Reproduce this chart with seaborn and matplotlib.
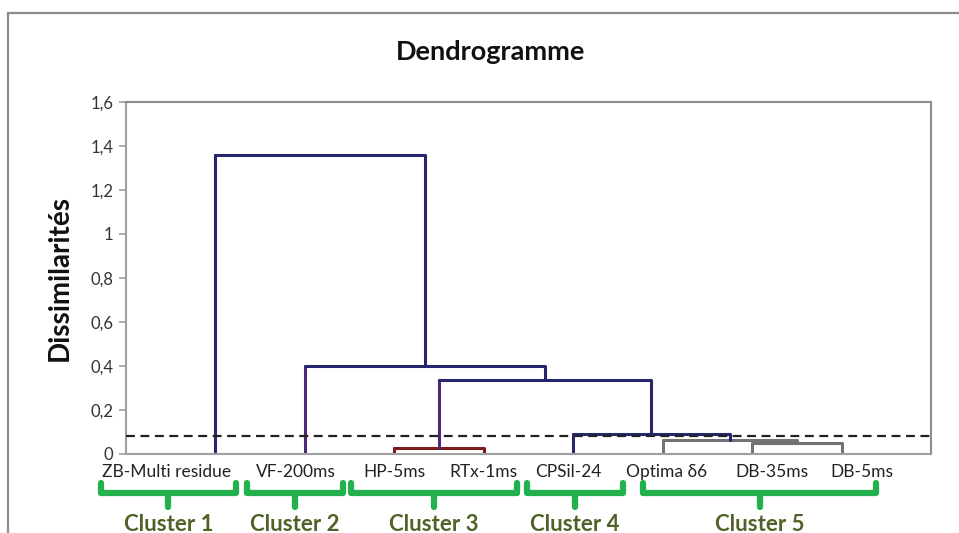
import matplotlib
matplotlib.use("Agg")
import matplotlib.pyplot as plt
from matplotlib.lines import Line2D
import seaborn as sns
import pandas as pd

# ---- data ----
leaves = ["ZB-Multi residue", "VF-200ms", "HP-5ms", "RTx-1ms",
          "CPSil-24", "Optima δ6", "DB-35ms", "DB-5ms"]
# merges: (left child, right child, height); leaves 0..7, new nodes 8..
merge_left = [2, 6, 5, 4, 8, 1, 0]
merge_right = [3, 7, 9, 10, 11, 12, 13]
merge_height = [0.026, 0.051, 0.065, 0.09, 0.335, 0.40, 1.36]
cut_height = 0.08
yticks = [0, 0.2, 0.4, 0.6, 0.8, 1, 1.2, 1.4, 1.6]
ytick_labels = ["0", "0,2", "0,4", "0,6", "0,8", "1", "1,2", "1,4", "1,6"]
clusters = ["Cluster 1", "Cluster 2", "Cluster 3", "Cluster 4", "Cluster 5"]
cluster_first = [0, 1, 2, 4, 5]
cluster_last = [0, 1, 3, 4, 7]

# ---- style ----
NAVY = "#26266E"
PURPLE = "#4A2A7A"
RED = "#7F1A1A"
GREY = "#737373"
link_color = [RED, GREY, GREY, NAVY, NAVY, NAVY, NAVY]
left_leg_color = [RED, GREY, GREY, NAVY, PURPLE, PURPLE, NAVY]
GREEN = "#22B14C"
DKGREEN = "#4F6228"

sns.set_theme(style="white")
plt.rcParams["font.family"] = ["Lato", "DejaVu Sans"]

fig = plt.figure(figsize=(9.59, 5.33), dpi=100)
ax = fig.add_axes([126 / 959, 79 / 533, 805 / 959, 352 / 533])

# node positions
pos = {i: i + 1 for i in range(len(leaves))}
hgt = {i: 0.0 for i in range(len(leaves))}
for k, (l, r, h) in enumerate(zip(merge_left, merge_right, merge_height)):
    node = len(leaves) + k
    xl, xr = pos[l], pos[r]
    # left leg
    sns.lineplot(x=[xl, xl], y=[hgt[l], h], sort=False, estimator=None,
                 color=left_leg_color[k], lw=2.2, ax=ax)
    # horizontal + right leg
    df = pd.DataFrame({"x": [xl, xr, xr], "y": [h, h, hgt[r]]})
    sns.lineplot(data=df, x="x", y="y", sort=False, estimator=None,
                 color=link_color[k], lw=2.2, ax=ax)
    pos[node] = (xl + xr) / 2
    hgt[node] = h

ax.axhline(cut_height, color="#222222", lw=1.6, ls=(0, (4, 2.5)), zorder=5)

ax.set_xlim(0, len(leaves) + 1)
ax.set_ylim(0, 1.6)
ax.set_xticks([])
ax.set_yticks(yticks)
ax.set_yticklabels(ytick_labels, fontsize=12, color="#333333")
ax.tick_params(axis="y", length=5, width=1.2, color="#A0A0A0", left=True, pad=4)
ax.set_xlabel("")
ax.set_ylabel("Dissimilarités", fontsize=20, fontweight="bold", color="#111111")
ax.yaxis.set_label_coords(-0.066, 0.5)
for s in ax.spines.values():
    s.set_color("#8C8C8C")
    s.set_linewidth(1.5)
ax.spines["left"].set_color("#A0A0A0")
ax.spines["bottom"].set_color("#A0A0A0")

# leaf labels (placed slightly off-centre as in the original)
label_shift = [-0.55, -0.10, 0.0, 0.0, -0.05, 0.04, 0.22, 0.23]
for i, name in enumerate(leaves):
    ax.text(pos[i] + label_shift[i], -0.052, name, ha="center", va="center",
            fontsize=12.5, color="#222222", transform=ax.get_xaxis_transform(),
            clip_on=False)

# cluster braces
trans = ax.get_xaxis_transform()
pad_l = [1.28, 0.65, 0.48, 0.52, 0.22]
pad_r = [0.23, 0.43, 0.37, 0.56, 0.39]
y_top, y_h, y_tip, y_txt = -0.082, -0.110, -0.150, -0.200
for c, name in enumerate(clusters):
    x0 = pos[cluster_first[c]] - pad_l[c]
    x1 = pos[cluster_last[c]] + pad_r[c]
    xc = (x0 + x1) / 2
    for xs, ys in [([x0, x0, x1, x1], [y_top, y_h, y_h, y_top]),
                   ([xc, xc], [y_h, y_tip])]:
        ax.add_line(Line2D(xs, ys, transform=trans, color=GREEN, lw=4.5,
                           solid_joinstyle="round", solid_capstyle="round",
                           clip_on=False))
    ax.text(xc, y_txt, name, transform=trans, ha="center", va="center",
            fontsize=16, fontweight="bold", color=DKGREEN, clip_on=False)

fig.text(491 / 959, 1 - 52 / 533, "Dendrogramme", ha="center", va="center",
         fontsize=19.5, fontweight="bold", color="#111111")

# outer chart frame
fig.add_artist(Line2D([8 / 959, 8 / 959], [0, 1 - 13 / 533], color="#8C8C8C",
                      lw=1.6, transform=fig.transFigure))
fig.add_artist(Line2D([8 / 959, 1], [1 - 13 / 533, 1 - 13 / 533],
                      color="#8C8C8C", lw=1.6, transform=fig.transFigure))

fig.savefig("out.png", dpi=100)
